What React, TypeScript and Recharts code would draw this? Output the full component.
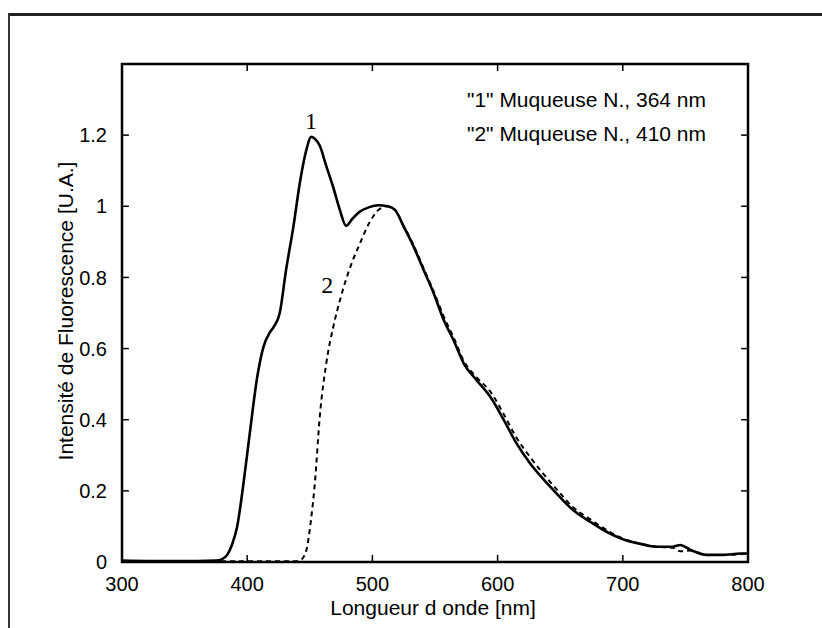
import React from 'react';
import { LineChart, Line, XAxis, YAxis, ReferenceDot, ReferenceLine, ReferenceArea } from 'recharts';

// wavelength grid (nm) shared by both spectra
const wavelengths = [
  300, 320, 340, 360, 375, 380, 384, 388, 392, 397, 402, 408, 413, 418, 421, 426, 431, 437, 442, 447,
  451, 454, 458, 463, 469, 474, 479, 484, 490, 497, 505, 512, 518, 525, 533, 541, 549, 557, 565, 573,
  583, 594, 605, 615, 626, 636, 647, 660, 674, 687, 700, 714, 727, 740, 746, 754, 767, 780, 794, 800,
];

// "1" excitation 364 nm (solid)
const mucosa364 = [
  0.004, 0.003, 0.003, 0.003, 0.004, 0.008, 0.02, 0.05, 0.1, 0.22, 0.36, 0.52, 0.605, 0.645, 0.66, 0.7, 0.82, 0.945, 1.065, 1.155,
  1.195, 1.19, 1.17, 1.115, 1.05, 0.99, 0.945, 0.965, 0.985, 0.997, 1.003, 1.0, 0.99, 0.943, 0.886, 0.82, 0.755, 0.68, 0.622, 0.558,
  0.512, 0.465, 0.399, 0.334, 0.277, 0.235, 0.193, 0.147, 0.113, 0.085, 0.064, 0.051, 0.043, 0.043, 0.048, 0.034, 0.02, 0.02, 0.024, 0.024,
];

// "2" excitation 410 nm (dashed)
const mucosa410 = [
  0.002, 0.002, 0.002, 0.002, 0.002, 0.002, 0.002, 0.002, 0.002, 0.002, 0.002, 0.002, 0.002, 0.002, 0.002, 0.002, 0.002, 0.002, 0.004, 0.03,
  0.12, 0.22, 0.41, 0.555, 0.665, 0.735, 0.795, 0.845, 0.895, 0.95, 0.99, 1.0, 0.99, 0.945, 0.89, 0.825, 0.76, 0.69, 0.63, 0.565,
  0.52, 0.48, 0.415, 0.35, 0.295, 0.25, 0.205, 0.155, 0.12, 0.09, 0.066, 0.052, 0.043, 0.04, 0.03, 0.032, 0.02, 0.02, 0.022, 0.024,
];

const xTicks = [300, 400, 500, 600, 700, 800];
const yTicks = [0, 0.2, 0.4, 0.6, 0.8, 1, 1.2];
const xDomain = [300, 800];
const yDomain = [0, 1.4];
const legendLines = ['"1" Muqueuse N., 364 nm', '"2" Muqueuse N., 410 nm'];
const curveTags = [
  { label: '1', x: 451, y: 1.24 },
  { label: '2', x: 464, y: 0.78 },
];

const data = wavelengths.map((nm, i) => ({ nm, s1: mucosa364[i], s2: mucosa410[i] }));

const sans = '"Liberation Sans", Arial, Helvetica, sans-serif';
const serif = '"Liberation Serif", "Times New Roman", serif';
// inward tick length, in data units
const TICK_DX = 5.5;
const TICK_DY = 0.02;

const tickStyle = { fontSize: 20, fill: '#000', fontFamily: sans };

export default function App() {
  const [x0, x1] = xDomain;
  const [y0, y1] = yDomain;
  return (
    <div style={{ position: 'absolute', left: 0, top: 0, width: 822, height: 628, background: '#fff', overflow: 'hidden' }}>
      {/* scan frame */}
      <div style={{ position: 'absolute', left: 8, top: 13, width: 814, height: 615, borderTop: '3px solid #222', borderLeft: '2px solid #333' }} />

      <LineChart width={822} height={628} data={data} margin={{ top: 64, right: 74, bottom: 26, left: 62 }}>
        <XAxis
          dataKey="nm"
          type="number"
          domain={xDomain}
          ticks={xTicks}
          height={40}
          tickLine={false}
          axisLine={false}
          tickMargin={9}
          tick={tickStyle}
        />
        <YAxis
          type="number"
          domain={yDomain}
          ticks={yTicks}
          width={60}
          tickLine={false}
          axisLine={false}
          tickMargin={9}
          tick={tickStyle}
        />
        <ReferenceArea x1={x0} x2={x1} y1={y0} y2={y1} fill="none" stroke="#000" strokeWidth={2.5} />
        {xTicks.slice(1, -1).map((v) => (
          <ReferenceLine key={'b' + v} segment={[{ x: v, y: y0 }, { x: v, y: y0 + TICK_DY }]} stroke="#000" strokeWidth={1.5} />
        ))}
        {xTicks.slice(1, -1).map((v) => (
          <ReferenceLine key={'t' + v} segment={[{ x: v, y: y1 }, { x: v, y: y1 - TICK_DY }]} stroke="#000" strokeWidth={1.5} />
        ))}
        {yTicks.slice(1).map((v) => (
          <ReferenceLine key={'l' + v} segment={[{ x: x0, y: v }, { x: x0 + TICK_DX, y: v }]} stroke="#000" strokeWidth={1.5} />
        ))}
        {yTicks.slice(1).map((v) => (
          <ReferenceLine key={'r' + v} segment={[{ x: x1, y: v }, { x: x1 - TICK_DX, y: v }]} stroke="#000" strokeWidth={1.5} />
        ))}
        <Line
          type="monotone"
          dataKey="s2"
          stroke="#000"
          strokeWidth={2}
          strokeDasharray="5 4"
          dot={false}
          isAnimationActive={false}
        />
        <Line
          type="monotone"
          dataKey="s1"
          stroke="#000"
          strokeWidth={2.6}
          dot={false}
          isAnimationActive={false}
        />
        {curveTags.map((t) => (
          <ReferenceDot
            key={t.label}
            x={t.x}
            y={t.y}
            r={1}
            fill="none"
            stroke="none"
            label={{ value: t.label, position: 'center', fontSize: 24, fontFamily: serif, fill: '#000' }}
          />
        ))}
      </LineChart>

      {/* legend text */}
      {legendLines.map((line, i) => (
        <div
          key={line}
          style={{
            position: 'absolute',
            right: 116,
            top: 88 + i * 34,
            fontFamily: sans,
            fontSize: 21,
            lineHeight: '24px',
            whiteSpace: 'nowrap',
            color: '#000',
          }}
        >
          {line}
        </div>
      ))}

      {/* axis titles */}
      <div
        style={{
          position: 'absolute',
          left: 233,
          top: 596,
          width: 400,
          textAlign: 'center',
          fontFamily: sans,
          fontSize: 21,
          lineHeight: '24px',
          color: '#000',
        }}
      >
        Longueur d onde [nm]
      </div>
      <div
        style={{
          position: 'absolute',
          left: 66 - 200,
          top: 311 - 12,
          width: 400,
          height: 24,
          textAlign: 'center',
          fontFamily: sans,
          fontSize: 21,
          lineHeight: '24px',
          color: '#000',
          transform: 'rotate(-90deg)',
          transformOrigin: 'center',
          whiteSpace: 'nowrap',
        }}
      >
        Intensité de Fluorescence [U.A.]
      </div>
    </div>
  );
}
